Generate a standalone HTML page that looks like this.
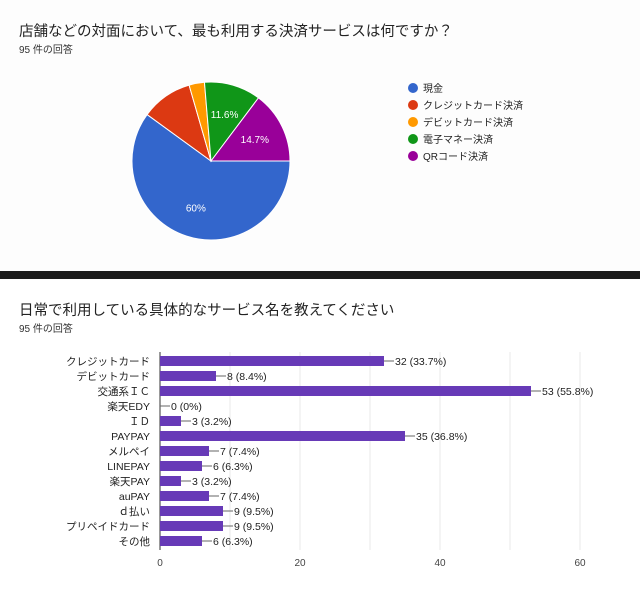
<!DOCTYPE html>
<html><head><meta charset="utf-8"><style>
body{margin:0;width:640px;height:598px;background:#fff;overflow:hidden;font-family:"Liberation Sans","Noto Sans CJK JP",sans-serif;}
svg text{font-family:"Liberation Sans","Noto Sans CJK JP",sans-serif;}
</style></head><body>
<svg width="640" height="598" viewBox="0 0 640 598">
<rect x="0" y="0" width="640" height="270" fill="#fdfdfd"/>
<text x="19" y="36" font-size="14.5" fill="#222">店舗などの対面において、最も利用する決済サービスは何ですか？</text>
<text x="19" y="53" font-size="10" fill="#333">95 件の回答</text>
<g id="pie"></g>
<g id="legend"></g>
<rect x="0" y="271" width="640" height="8" fill="#1c1c1c"/>
<text x="19" y="315" font-size="14.5" fill="#222">日常で利用している具体的なサービス名を教えてください</text>
<text x="19" y="332" font-size="10" fill="#333">95 件の回答</text>
<g id="bars"></g>
</svg>
<script>
const pieLabels=["現金","クレジットカード決済","デビットカード決済","電子マネー決済","QRコード決済"];
const pieValues=[57,10,3,11,14];
const pieColors=["#3366cc","#dc3912","#ff9900","#109618","#990099"];
const barCats=["クレジットカード","デビットカード","交通系ＩＣ","楽天EDY","ＩＤ","PAYPAY","メルペイ","LINEPAY","楽天PAY","auPAY","ｄ払い","プリペイドカード","その他"];
const barVals=[32,8,53,0,3,35,7,6,3,7,9,9,6];
const tickVals=[0,20,40,60];
const NS="http://www.w3.org/2000/svg";
function mk(t,a,p){const e=document.createElementNS(NS,t);for(const k in a)e.setAttribute(k,a[k]);p.appendChild(e);return e;}
// pie
const pie=document.getElementById('pie');
const cx=211,cy=161,r=79;
const tot=pieValues.reduce((a,b)=>a+b,0);
let ang=0;
pieValues.forEach((v,i)=>{
 const a0=ang, a1=ang+v/tot*2*Math.PI; ang=a1;
 const x0=cx+r*Math.cos(a0),y0=cy+r*Math.sin(a0),x1=cx+r*Math.cos(a1),y1=cy+r*Math.sin(a1);
 const p=mk('path',{d:`M${cx},${cy}L${x0},${y0}A${r},${r} 0 ${a1-a0>Math.PI?1:0} 1 ${x1},${y1}Z`,fill:pieColors[i],stroke:'#fff','stroke-width':1},pie);
 
 
 const pct=v/tot*100;
 if(pct>5 && v>10||i==0){
  const m=(a0+a1)/2, lr=r*0.62;
  const t=mk('text',{x:cx+lr*Math.cos(m),y:cy+lr*Math.sin(m)+4,'font-size':10,fill:'#fff','text-anchor':'middle'},pie);
  t.textContent=(Math.round(pct*10)/10)+'%';
  
  
 }
});
const lg=document.getElementById('legend');
pieLabels.forEach((l,i)=>{
 const y=88+i*17;
 const c=mk('circle',{cx:413,cy:y,r:5,fill:pieColors[i]},lg);
 
 
 const t=mk('text',{x:423,y:y+4,'font-size':10,fill:'#222'},lg);
 t.textContent=l;
 
 
});
// bars
const g=document.getElementById('bars');
const x0=160,xs=7,yTop=361,step=15,bh=10,xmax=60;
const X=v=>x0+v*xs;
for(let v=10;v<=xmax;v+=10){
 const l=mk('line',{x1:X(v),x2:X(v),y1:352,y2:550,stroke:'#e8e8e8'},g);
 
 
}
mk('line',{x1:x0,x2:x0,y1:352,y2:550,stroke:'#333'},g);
tickVals.forEach(v=>{
 const t=mk('text',{x:X(v),y:566,'font-size':10,fill:'#444','text-anchor':'middle'},g);
 t.textContent=v;
 
 
});
barCats.forEach((c,i)=>{
 const y=yTop+i*step;
 const t=mk('text',{x:150,y:y+4,'font-size':10.5,fill:'#222','text-anchor':'end'},g);
 t.textContent=c;
 
 
 const b=mk('rect',{x:x0,y:y-bh/2,width:barVals[i]*xs,height:bh,fill:'#673ab7'},g);
 
 
 const ex=X(barVals[i]);
 mk('line',{x1:ex,x2:ex+10,y1:y,y2:y,stroke:'#666'},g);
 const vt=mk('text',{x:ex+11,y:y+4,'font-size':10.5,fill:'#222'},g);
 vt.textContent=barVals[i]+' ('+(Math.round(barVals[i]/95*1000)/10)+'%)';
 
 
});
</script>
</body></html>
